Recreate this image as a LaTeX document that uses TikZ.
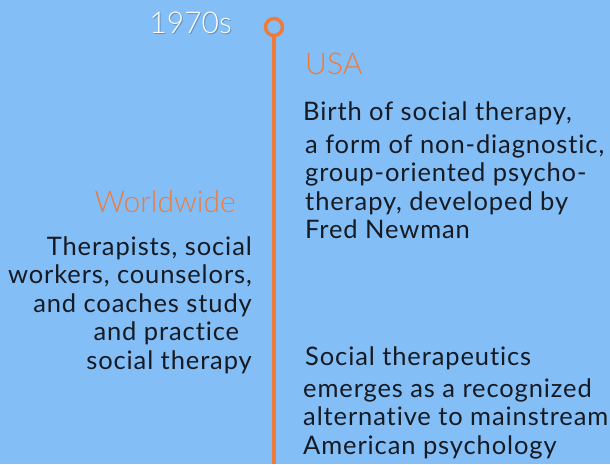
\documentclass[tikz,border=0pt]{standalone}
\usepackage{fontspec}
\setmainfont{Lato}[LetterSpace=3.5, Ligatures={NoCommon}]
\newfontfamily\latolight{Lato Light}[Ligatures={NoCommon}]
\usetikzlibrary{positioning}
\definecolor{skyblue}{RGB}{131,190,246}
\definecolor{tlorange}{RGB}{240,122,58}
\definecolor{inkblack}{RGB}{22,26,34}
\tikzset{
  heading/.style={text=tlorange, font=\latolight\fontsize{30}{34}\selectfont, inner sep=0pt},
  title/.style={text=inkblack, font=\fontsize{25.5}{28.5}\selectfont, inner sep=0pt},
  body/.style={text=inkblack, font=\fontsize{25.5}{28.5}\selectfont, inner sep=0pt},
}
\begin{document}
\begin{tikzpicture}[x=1pt,y=-1pt]
      \fill [skyblue] (0, 0) rectangle (610, 464);
      \useasboundingbox (0, 0) rectangle (610, 464);

      % timeline
      \node [circle, draw=tlorange, line width=3.5pt, minimum size=17pt, inner sep=0pt] (dot) at (274, 27) {};
      \coordinate (bottom) at (274, 464);
      \draw [tlorange, line width=3.5pt] (dot.south) -- (bottom);

      \node [anchor=base east, text=black!40!skyblue, opacity=0.6, inner sep=0pt,
        font=\latolight\fontsize{30}{34}\selectfont] (decadeshadow) at (233, 34) {1970s};
      \node [anchor=base east, text=white, inner sep=0pt,
        font=\latolight\fontsize{30}{34}\selectfont] (decade) at (232, 33) {1970s};

      % right side (multi-line nodes sit on their last baseline)
      \node [heading, anchor=base west] (usa) at (305, 74) {USA};
      \node [title, anchor=base west] (birth) at (303, 120) {Birth of social therapy,};
      \node [body, anchor=base west, align=left] (birthtext) at (305, 238.5)
        {a form of non-diagnostic,\\group-oriented psycho-\\therapy, developed by\\Fred Newman};

      \node [title, anchor=base west] (sociother) at (305, 365) {Social therapeutics};
      \node [body, anchor=base west, align=left] (sociotext) at (303, 454)
        {emerges as a recognized\\alternative to mainstream\\American psychology};

      % left side
      \node [heading, anchor=base east] (world) at (236, 212) {Worldwide};
      \node [body, anchor=base east, align=right] (worldtext) at (252, 369)
        {Therapists, social\\workers, counselors,\\and coaches study\\and practice\hphantom{x}\\social therapy};
    \end{tikzpicture}
\end{document}
